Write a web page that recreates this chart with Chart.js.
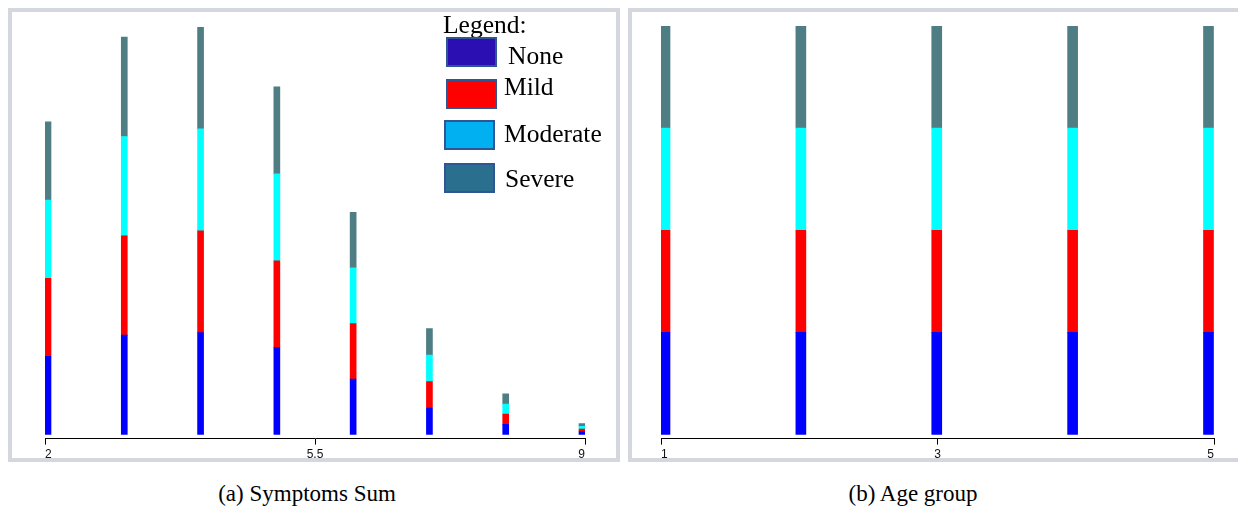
<!DOCTYPE html>
<html><head><meta charset="utf-8">
<script src="https://cdn.jsdelivr.net/npm/chart.js@4.4.1/dist/chart.umd.min.js"></script>
<style>
html,body{margin:0;padding:0;background:#fff;width:1238px;height:509px;overflow:hidden;position:relative;}
.panel{position:absolute;box-sizing:border-box;border:4px solid #d5d7de;background:#fff;}
#pa{left:8px;top:8px;width:612px;height:454px;}
#pb{left:628px;top:8px;width:620px;height:454px;}
canvas{position:absolute;}
#ca{left:12px;top:12px;}
#cb{left:632px;top:12px;}
.t{position:absolute;font-family:'Liberation Serif','Times New Roman',serif;font-size:25.5px;line-height:1;color:#000;white-space:nowrap;}
.sw{position:absolute;box-sizing:border-box;border:2px solid #2f5597;width:51px;height:30px;}
.cap{position:absolute;font-family:'Liberation Serif','Times New Roman',serif;font-size:23px;line-height:1;top:482px;transform:translateX(-50%);white-space:nowrap;color:#000;}
</style>
</head><body>
<div class="panel" id="pa"></div>
<div class="panel" id="pb"></div>
<canvas id="ca" width="604" height="453"></canvas>
<canvas id="cb" width="606" height="453"></canvas>

<div class="t" style="left:443px;top:12px;">Legend:</div>
<div class="sw" style="left:446px;top:37px;background:#2c0fb3;"></div>
<div class="t" style="left:508px;top:43px;">None</div>
<div class="sw" style="left:446px;top:79px;background:#ff0000;"></div>
<div class="t" style="left:504px;top:74px;">Mild</div>
<div class="sw" style="left:444px;top:120px;background:#00b0f0;"></div>
<div class="t" style="left:504px;top:121px;">Moderate</div>
<div class="sw" style="left:444px;top:163px;background:#2a6f8d;"></div>
<div class="t" style="left:505px;top:166px;">Severe</div>

<div class="cap" style="left:307px;">(a) Symptoms Sum</div>
<div class="cap" style="left:913px;">(b) Age group</div>

<script>
// ---- data ----
const severityLevels = ['None', 'Mild', 'Moderate', 'Severe'];
const barColors = ['#0000ff', '#ff0000', '#00ffff', '#4e7d84'];

const symptomSums = [2, 3, 4, 5, 6, 7, 8, 9];
const sumNone     = [76.7, 97.5, 100, 85.3, 54.5, 26, 10, 2.7];
const sumMild     = [76.7, 97.5, 100, 85.3, 54.5, 26, 10, 2.7];
const sumModerate = [76.7, 97.5, 100, 85.3, 54.5, 26, 10, 2.7];
const sumSevere   = [76.7, 97.5, 100, 85.3, 54.5, 26, 10, 2.7];
const sumTickValues = [2, 5.5, 9];
const sumTickLabels = ['2', '5.5', '9'];

const ageGroups   = [1, 2, 3, 4, 5];
const ageNone     = [100, 100, 100, 100, 100];
const ageMild     = [100, 100, 100, 100, 100];
const ageModerate = [100, 100, 100, 100, 100];
const ageSevere   = [100, 100, 100, 100, 100];
const ageTickValues = [1, 3, 5];
const ageTickLabels = ['1', '3', '5'];

function makeDatasets(xs, series, thickness) {
  return series.map((vals, i) => ({
    label: severityLevels[i],
    data: xs.map((x, j) => ({ x: x, y: vals[j] })),
    backgroundColor: barColors[i],
    borderWidth: 0,
    barThickness: thickness,
    xAxisID: 'xb',
    yAxisID: 'y'
  }));
}

function makeChart(id, xs, series, thickness, tickVals, tickLabels, axisMin, axisMax, barMin, barMax, pad) {
  return new Chart(document.getElementById(id), {
    type: 'bar',
    data: { datasets: makeDatasets(xs, series, thickness) },
    options: {
      responsive: false,
      animation: false,
      devicePixelRatio: 1,
      layout: { padding: pad },
      plugins: { legend: { display: false }, tooltip: { enabled: false }, title: { display: false } },
      scales: {
        x: {
          type: 'linear', position: 'bottom', min: axisMin, max: axisMax, offset: false,
          afterBuildTicks: s => { s.ticks = tickVals.map(v => ({ value: v })); },
          grid: { display: true, drawOnChartArea: false, drawTicks: true, tickLength: 6, color: '#000', lineWidth: 1, offset: false },
          border: { display: true, color: '#000', width: 1 },
          ticks: {
            align: 'inner', padding: 3, color: '#111', maxRotation: 0, autoSkip: false,
            font: { family: "'Liberation Sans', Arial, sans-serif", size: 12 },
            callback: (v, i) => tickLabels[i]
          }
        },
        xb: { type: 'linear', position: 'bottom', display: false, min: barMin, max: barMax, offset: false, stacked: true },
        y: { type: 'linear', display: false, stacked: true, min: -4, max: 400 }
      }
    }
  });
}

makeChart('ca', symptomSums, [sumNone, sumMild, sumModerate, sumSevere], 6,
  sumTickValues, sumTickLabels, 2, 9, 1.9607, 9.0393,
  { left: 33, right: 31, top: 15, bottom: 0 });

makeChart('cb', ageGroups, [ageNone, ageMild, ageModerate, ageSevere], 10,
  ageTickValues, ageTickLabels, 1, 5, 0.97056, 5.0405,
  { left: 29, right: 24, top: 14, bottom: 0 });
</script>
</body></html>
